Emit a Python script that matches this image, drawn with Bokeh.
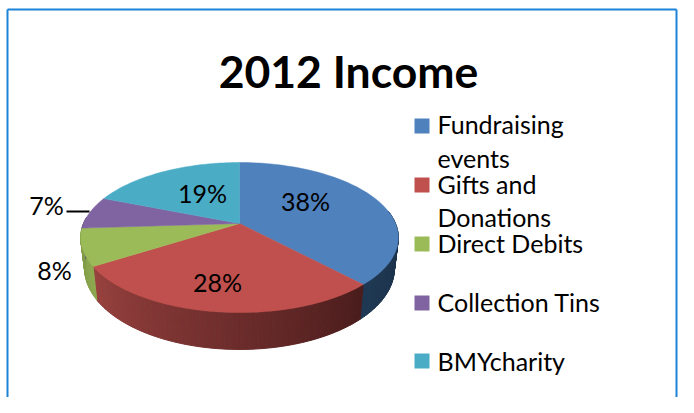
import numpy as np
from bokeh.plotting import figure
from bokeh.models import Range1d
from bokeh.core.properties import value
from bokeh.embed import file_html
from bokeh.resources import INLINE

title = "2012 Income"
categories = ["Fundraising events", "Gifts and Donations", "Direct Debits", "Collection Tins", "BMYcharity"]
values = [38, 28, 8, 7, 19]
colors = ["#4f81bd", "#c0504d", "#9bbb59", "#8064a2", "#4bacc6"]
side_left = ["#1f3853", "#99423f", "#7f9a48", "#64507f", "#3a8a9f"]
side_right = ["#1c3048", "#4a1c1c", "#8fa950", "#64507f", "#3a8a9f"]
legend_lines = [["Fundraising", "events"], ["Gifts and", "Donations"], ["Direct Debits"], ["Collection Tins"], ["BMYcharity"]]
legend_box_top = [118, 177, 236, 295, 353]
legend_baselines = [[133, 167], [193, 226], [252], [311], [370]]
label_x = [305, 217, 54, 46, 202]
label_y = [210, 291, 279, 214, 202]
font = value("Lato")
TITLE_PX, LEGEND_PX, LABEL_PX = 44.5, 25, 25
BASE_SHIFT = -0.38

# projected-circle geometry of the pie (pixels)
AX, AY, RX, RY, K, DEPTH, TAPER = 239, 223, 156, 72.4, 0.187, 30, 0.025

def rim(t):
    u, v = np.sin(t), np.cos(t)
    w = 1 + K * v
    return AX + RX * u / w, AY - RY * v / w, DEPTH / w

p = figure(width=678, height=397, output_backend="svg", toolbar_location=None,
           x_range=Range1d(0, 678), y_range=Range1d(397, 0),
           x_axis_type=None, y_axis_type=None, min_border=0, outline_line_color=None)
p.grid.visible = False
p.background_fill_color = "#ffffff"

shares = np.array(values, dtype=float) / sum(values)
edges = np.concatenate([[0], np.cumsum(shares)]) * 2 * np.pi

# side walls (only the front half of the rim)
front_lo, front_hi = np.radians(80), np.radians(275)
for i in range(len(values)):
    a, b = max(edges[i], front_lo), min(edges[i + 1], front_hi)
    if a >= b:
        continue
    n = max(2, int((b - a) / np.radians(1.0)))
    ts = np.linspace(a, b, n + 1)
    xs, ys, fill = [], [], []
    c0 = np.array([int(side_right[i][j:j + 2], 16) for j in (1, 3, 5)])
    c1 = np.array([int(side_left[i][j:j + 2], 16) for j in (1, 3, 5)])
    for j in range(n):
        x0, y0, d0 = rim(ts[j])
        x1, y1, d1 = rim(ts[j + 1])
        xs.append([x0, x1, x1 + (AX - x1) * TAPER, x0 + (AX - x0) * TAPER])
        ys.append([y0, y1, y1 + d1, y0 + d0])
        f = (j + 0.5) / n
        c = c0 + (c1 - c0) * f
        fill.append("#%02x%02x%02x" % tuple(int(q) for q in c))
    p.patches(xs, ys, fill_color=fill, line_color=fill, line_width=1)

# top faces
for i, col in enumerate(colors):
    ts = np.linspace(edges[i], edges[i + 1], 80)
    x, y, _ = rim(ts)
    p.patch(np.r_[AX, x], np.r_[AY, y], fill_color=col, line_color=col, line_width=0.5)

# percentage labels
pct = [f"{v}%" for v in values]
p.text(label_x, label_y, text=pct, text_font=font, text_font_size=f"{LABEL_PX}px", text_color="#000000",
       text_align="center", text_baseline="alphabetic", y_offset=BASE_SHIFT * LABEL_PX)

# leader line for the 7% slice
p.segment([66], [211], [89], [211], line_color="#000000", line_width=2)

# title
p.text([348], [87], text=[title], text_font=font, text_font_size=f"{TITLE_PX}px", text_font_style="bold",
       text_color="#000000", text_align="center", text_baseline="alphabetic", y_offset=BASE_SHIFT * TITLE_PX)

# legend
for top, col, lines, bases in zip(legend_box_top, colors, legend_lines, legend_baselines):
    p.quad(left=[414], right=[429], top=[top], bottom=[top + 15], fill_color=col, line_color=None)
    p.text([437] * len(lines), bases, text=lines, text_font=font, text_font_size=f"{LEGEND_PX}px",
           text_color="#000000", text_align="left", text_baseline="alphabetic", y_offset=BASE_SHIFT * LEGEND_PX)

# frame
p.segment([7, 7, 676], [9, 9, 9], [676, 7, 676], [9, 397, 397], line_color="#1c84d8", line_width=2)

open("out.html", "w").write(file_html(p, INLINE))
